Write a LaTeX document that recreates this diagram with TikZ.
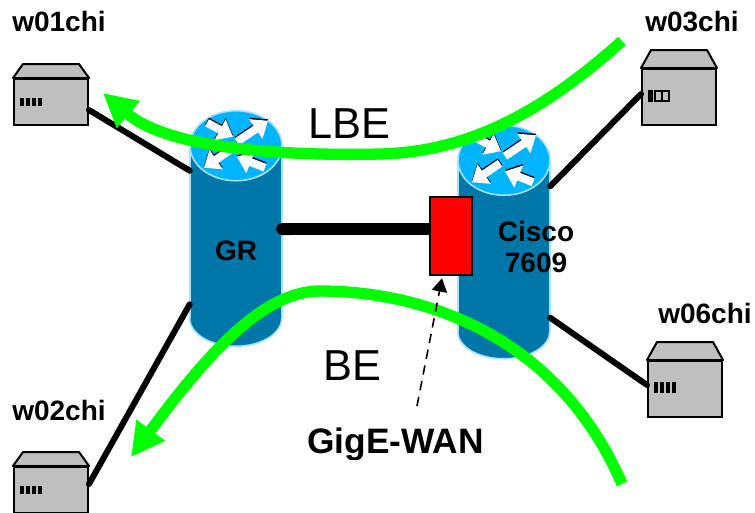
\documentclass[tikz,border=0pt]{standalone}
\usepackage{fontspec}
\setmainfont{Liberation Sans}
\usepackage{xcolor}
\usepackage{tikz}
\usetikzlibrary{arrows.meta, calc}
\definecolor{hostgray}{HTML}{BFBFBF}
\definecolor{routertop}{HTML}{00B4FF}
\definecolor{routerbody}{HTML}{0077A8}
\definecolor{routeredge}{HTML}{A6E1FF}
\definecolor{flowgreen}{HTML}{00FF00}
\tikzset{
    hostbox/.style={rectangle, draw=black, fill=hostgray, line width=1.5pt, minimum width=55.5pt,
                    inner sep=0pt},
    hostlabel/.style={font=\fontsize{21}{25}\selectfont\bfseries, inner sep=0pt, anchor=base west},
    routerbox/.style={rectangle, fill=routerbody, minimum width=69pt, inner sep=0pt},
    routerlabel/.style={font=\fontsize{21}{23}\selectfont\bfseries, inner sep=0pt, align=center},
    flowlabel/.style={font=\fontsize{32.5}{36}\selectfont, inner sep=0pt, anchor=base west},
    hostlink/.style={line width=4.5pt, line cap=round},
    trunk/.style={{Round Cap[]}-, line width=9pt},
    flowarr/.style={-{Triangle[length=25pt,width=25pt]}, line width=8.5pt, color=flowgreen},
    cardbox/.style={rectangle, draw=black, fill=red, line width=1.9pt, minimum width=31.5pt,
                    minimum height=58.5pt, inner sep=0pt},
    notearr/.style={-{Triangle[length=10pt,width=11.5pt]}, line width=1.2pt, dash pattern=on 7pt off 5pt},
    swarr/.style={-{Triangle[length=11pt,width=17pt]}, line width=6pt},
}
\begin{document}
\begin{tikzpicture}[x=0.75pt, y=-0.75pt]
  \useasboundingbox (0,0) rectangle (755,512);

  % routers
  \node[routerbox, minimum height=129pt] (gr) at (236,232) {};
  \node[routerbox, minimum height=128.25pt] (cisco) at (504,246) {};
  \foreach \r/\ry in {gr/28, cisco/27} {
    \fill[routerbody] ($(\r.south west)+(0,-2)$) -- (\r.south west) arc[start angle=180, end angle=0, x radius=46, y radius=\ry] -- ++(0,-2) -- cycle;
    \draw[routeredge, line width=1.2pt] (\r.south west) arc[start angle=180, end angle=0, x radius=46, y radius=\ry];
    \draw[routeredge, line width=1.2pt] (\r.south west) -- (\r.north west) (\r.south east) -- (\r.north east);
    \draw[routeredge, line width=1.2pt, fill=routertop] (\r.north) ellipse[x radius=46, y radius=35];
    \foreach \tox/\toy/\fromx/\fromy in {32/-25/1/-4, -3/-9/-29/-23, -32/22/-4/3, 1/11/29/22} {
      \draw[swarr, black] ($(\r.north)+(\fromx,\fromy-1.5)$) -- ($(\r.north)+(\tox,\toy-1.5)$);
      \draw[swarr, white] ($(\r.north)+(\fromx,\fromy)$) -- ($(\r.north)+(\tox,\toy)$);
    }
  }

  % hosts
  \node[hostbox, minimum height=34.5pt] (w01) at (51,102) {};
  \node[hostbox, minimum height=34.5pt] (w02) at (51,490) {};
  \node[hostbox, minimum height=42pt] (w03) at (679,97) {};
  \node[hostbox, minimum height=42pt] (w06) at (685,389) {};
  \foreach \h/\up in {w01/14, w02/14, w03/18, w06/18} {
    \draw[line width=1.5pt, line join=round, fill=hostgray] (\h.north west) -- ++(10,-\up) -- ($(\h.north east)+(-10,-\up)$) -- (\h.north east) -- cycle;
  }
  \foreach \h/\dy/\dx/\bar in {w01/-4/7/8, w02/-4/7/8, w06/-7/7/11} {
    \foreach \i in {0,1,2,3} {
      \fill ($(\h.west)+(\dx+\i*5.9,\dy)$) rectangle ++(4,\bar);
    }
  }
  \fill ($(w03.west)+(7,-7)$) rectangle ++(5,12);
  \draw[line width=0.9pt] ($(w03.west)+(14,-6)$) rectangle ++(7,10);
  \draw[line width=0.9pt] ($(w03.west)+(21,-6)$) rectangle ++(7,10);

  % links
  \draw[hostlink] ($(w01.east)+(0,8)$) -- ($(gr.north west)+(0,25)$);
  \draw[hostlink] ($(w02.east)+(0,-6)$) -- ($(gr.south west)+(0,-14)$);
  \draw[hostlink] ($(w03.west)+(0,-3)$) -- ($(cisco.north east)+(0,26)$);
  \draw[hostlink] ($(w06.west)+(0,-4)$) -- ($(cisco.south east)+(0,-14)$);

  \node[cardbox] (card) at (451,236) {};
  \draw[trunk] ($(gr.east |- card.west)+(-6,-7)$) -- ($(card.west)+(0,-7)$);

  % flows
  \coordinate (lbefrom) at (622,41);
  \coordinate (lbemid) at (380,154);
  \coordinate (lbeto) at (103,93);
  \coordinate (befrom) at (622,484);
  \coordinate (bemid) at (320,291);
  \coordinate (beto) at (131,457);
  \draw[flowarr] (lbefrom) .. controls (545,110) and (470,152) .. (lbemid)
                 .. controls (290,156) and (170,150) .. (lbeto);
  \draw[flowarr] (befrom) .. controls (560,340) and (430,291) .. (bemid)
                 .. controls (265,291) and (210,350) .. (beto);

  % texts
  \node[hostlabel] (w01chi) at (12,31) {w01chi};
  \node[hostlabel] (w02chi) at (12,420) {w02chi};
  \node[hostlabel] (w03chi) at (645,31) {w03chi};
  \node[hostlabel] (w06chi) at (658,323) {w06chi};
  \node[routerlabel] (grlabel) at (236,251) {GR};
  \node[routerlabel] (ciscolabel) at (536,247) {Cisco\\7609};
  \node[flowlabel] (lbe) at (308,138) {LBE};
  \node[flowlabel] (be) at (323,380) {BE};
  \begin{scope}
    \clip (300,420) rectangle (500,459);
    \node[font=\fontsize{26.5}{30}\selectfont\bfseries, inner sep=0pt, anchor=base west] (gige) at (307,453) {GigE-WAN};
  \end{scope}

  \coordinate (notefrom) at (417,406);
  \draw[notearr] (notefrom) -- ($(card.south)+(-9,2)$);

\end{tikzpicture}
\end{document}
